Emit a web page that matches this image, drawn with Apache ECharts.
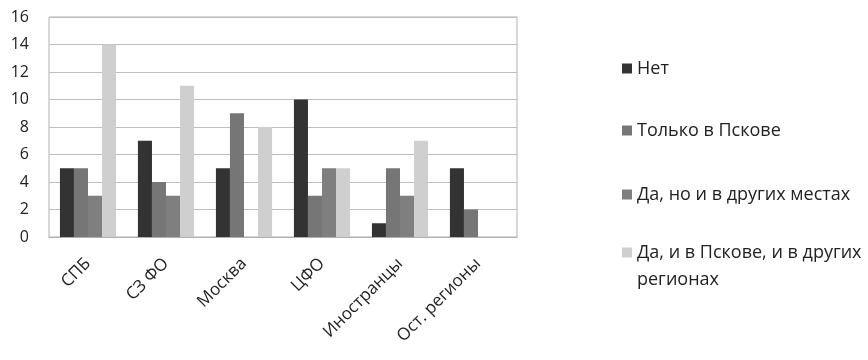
<!DOCTYPE html>
<html><head><meta charset="utf-8">
<script src="https://cdn.jsdelivr.net/npm/echarts@6/dist/echarts.min.js"></script>
<style>html,body{margin:0;padding:0;background:#fff}#c{width:868px;height:360px}</style>
</head><body><div id="c"></div>
<script>
var categories = ['СПБ', 'СЗ ФО', 'Москва', 'ЦФО', 'Иностранцы', 'Ост. регионы'];
var seriesNames = ['Нет', 'Только в Пскове', 'Да, но и в других местах', 'Да, и в Пскове, и в других регионах'];
var valsNet = [5, 7, 5, 10, 1, 5];
var valsPskov = [5, 4, 9, 3, 5, 2];
var valsOther = [3, 3, 0, 5, 3, 0];
var valsBoth = [14, 11, 8, 5, 7, 0];
var yTicks = [0, 2, 4, 6, 8, 10, 12, 14, 16];
var colors = ['#333333', '#767676', '#7f7f7f', '#cfcfcf'];
var FONT = 'Open Sans';

var chart = echarts.init(document.getElementById('c'), null, {renderer: 'canvas'});
var allVals = [valsNet, valsPskov, valsOther, valsBoth];
var series = allVals.map(function (v, i) {
  return {
    name: seriesNames[i], type: 'bar', data: v,
    barGap: '0%', barCategoryGap: '28%',
    itemStyle: {color: colors[i]}
  };
});
var legendTops = [55, 117, 181, 212];
var legends = seriesNames.map(function (n, i) {
  return {
    data: [n], left: 622, top: legendTops[i], orient: 'vertical', padding: 0,
    itemWidth: 10, itemHeight: 10, itemGap: 0, icon: 'rect', selectedMode: false,
    textStyle: {fontFamily: FONT, fontSize: 18, color: '#222', lineHeight: 27},
    formatter: i === 3 ? function () { return '\u00a0\nДа, и в Пскове, и в других\nрегионах'; } : undefined
  };
});
chart.setOption({
  animation: false,
  grid: {left: 49, right: 351, top: 17, bottom: 123, show: true, borderColor: '#b0b0b0', borderWidth: 1},
  legend: legends,
  xAxis: {
    type: 'category', data: categories,
    axisLine: {lineStyle: {color: '#b0b0b0'}},
    axisTick: {show: false},
    axisLabel: {rotate: 45, interval: 0, fontFamily: FONT, fontSize: 17, color: '#222', margin: 24}
  },
  yAxis: {
    type: 'value', min: yTicks[0], max: yTicks[yTicks.length - 1], interval: 2,
    axisLine: {show: false}, axisTick: {show: false},
    splitLine: {lineStyle: {color: '#bdbdbd', width: 1}},
    axisLabel: {fontFamily: FONT, fontSize: 16, color: '#222', margin: 20}
  },
  series: series
});
</script></body></html>
